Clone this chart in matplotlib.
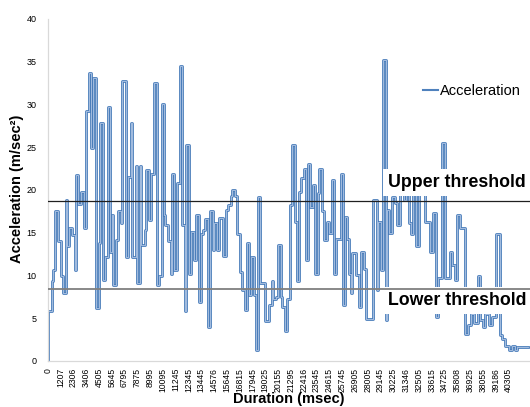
import numpy as np
import matplotlib
matplotlib.use('Agg')
import matplotlib.pyplot as plt
from matplotlib.lines import Line2D

plt.rcParams['font.family'] = ['Liberation Sans', 'DejaVu Sans']

# Duration tick labels (msec), one every 10 samples
duration_labels = ['0', '1207', '2306', '3406', '4505', '5645', '6795', '7875',
                   '8995', '10095', '11245', '12345', '13445', '14576', '15645',
                   '16815', '17945', '19025', '20155', '21295', '22416', '23545',
                   '24615', '25745', '26905', '28005', '29145', '30225', '31346',
                   '32505', '33615', '34725', '35808', '36925', '38055', '39186',
                   '40305']

# Sample index where each new reading starts
step_start = [0, 3, 4, 6, 8, 10, 12, 14, 15, 17, 19, 21, 22, 24, 26, 28, 30, 32,
              34, 35, 38, 40, 41, 43, 45, 47, 49, 50, 51, 53, 55, 57, 58, 61, 63,
              65, 66, 69, 70, 72, 73, 76, 77, 79, 81, 83, 85, 87, 89, 91, 92, 94,
              96, 97, 99, 101, 103, 105, 107, 108, 110, 112, 114, 116, 118, 120,
              121, 123, 125, 127, 129, 130, 132, 134, 137, 139, 141, 143, 144,
              146, 148, 150, 152, 154, 156, 157, 159, 161, 163, 164, 166, 170,
              173, 175, 176, 178, 180, 182, 183, 185, 187, 189, 191, 193, 195,
              196, 198, 200, 202, 203, 205, 207, 209, 211, 212, 214, 216, 218,
              220, 222, 224, 225, 229, 231, 232, 234, 235, 237, 238, 241, 243,
              245, 247, 249, 254, 257, 258, 260, 262, 264, 265, 267, 269, 271,
              273, 275, 278, 280, 282, 284, 285, 288, 290, 295, 299, 301, 303,
              305, 308, 310, 314, 316, 318, 320, 322, 326, 328, 331, 333, 336,
              338, 340, 342, 345, 347, 350, 353, 355, 357, 360, 363, 365, 367]
# Acceleration reading (m/sec^2) held from each start
accel = [5.9, 9.3, 10.6, 17.5, 14.0, 9.9, 7.9, 18.8, 13.4, 15.5, 14.7, 10.6,
         21.7, 18.4, 19.8, 15.5, 29.2, 33.7, 24.9, 33.1, 6.2, 13.8, 27.8, 9.5,
         12.2, 29.7, 12.8, 17.1, 8.9, 14.1, 17.5, 16.1, 32.7, 12.2, 21.5, 27.8,
         12.2, 22.8, 9.1, 22.8, 13.6, 15.3, 22.3, 16.5, 21.9, 32.5, 8.9, 9.9,
         30.1, 17.1, 15.9, 14.0, 10.2, 21.9, 10.6, 20.8, 34.5, 15.9, 5.8, 25.3,
         10.2, 15.1, 11.8, 17.1, 6.9, 14.9, 15.3, 16.6, 4.0, 17.5, 13.0, 16.1,
         13.0, 16.7, 12.3, 17.7, 18.2, 19.3, 20.0, 19.3, 14.9, 10.4, 8.3, 6.0,
         13.8, 7.7, 12.2, 7.7, 1.3, 19.2, 9.1, 4.7, 6.5, 9.3, 7.2, 7.5, 13.6,
         7.5, 6.3, 3.5, 7.2, 18.2, 25.3, 16.2, 9.4, 19.8, 21.4, 22.5, 11.8,
         23.0, 18.0, 20.6, 10.2, 19.6, 22.4, 17.6, 14.1, 16.2, 15.0, 21.2, 10.2,
         14.3, 21.9, 6.5, 16.9, 14.3, 10.2, 7.9, 12.6, 10.1, 6.3, 12.8, 10.8,
         4.9, 18.8, 8.3, 16.3, 10.6, 35.2, 4.8, 17.7, 15.0, 19.2, 18.5, 15.9,
         19.8, 18.8, 20.5, 16.1, 14.9, 20.5, 13.4, 20.5, 16.3, 12.8, 17.3, 5.2,
         9.7, 25.5, 9.7, 12.8, 11.2, 9.5, 17.1, 15.5, 3.2, 4.2, 5.5, 4.5, 10.0,
         4.8, 4.0, 5.5, 4.2, 5.2, 14.9, 3.0, 2.6, 1.7, 1.3, 1.7, 1.3, 1.6]
last_sample = 375

upper_threshold = 18.75
lower_threshold = 8.4

blue = '#4F81BD'


def main():
    fig = plt.figure(figsize=(5.3, 4.07), dpi=100)
    ax = fig.add_axes([47.7 / 530, 1 - 361 / 407, 482.3 / 530, 342 / 407])

    xs = [0] + step_start + [last_sample]
    ys = [0] + accel + [accel[-1]]
    # outlined line, like the excel rendering
    ax.step(xs, ys, where='post', color='#4A7DBA', linewidth=2.0, zorder=2)
    ax.step(xs, ys, where='post', color='#B3C8E6', linewidth=0.6, zorder=2.1)

    ax.axhline(upper_threshold, color='#202020', linewidth=0.9, zorder=5)
    ax.axhline(lower_threshold, color='#7F7F7F', linewidth=1.3, zorder=5)

    ax.text(0.7056, 0.509, 'Upper threshold', transform=ax.transAxes,
            fontsize=12.8, fontweight='bold', va='baseline', ha='left', zorder=4,
            bbox=dict(facecolor='white', edgecolor='none', pad=3.5))
    ax.text(0.7056, 0.164, 'Lower threshold', transform=ax.transAxes,
            fontsize=12.8, fontweight='bold', va='baseline', ha='left', zorder=4,
            bbox=dict(facecolor='white', edgecolor='none', pad=3.5))

    ax.set_xlim(0, 482.3 / 1.28)
    ax.set_ylim(0, 40)
    ax.set_yticks(np.arange(0, 41, 5))
    ax.set_xticks(np.arange(len(duration_labels)) * 10)
    ax.set_xticklabels(duration_labels, rotation=90)
    ax.tick_params(axis='y', length=0, pad=8, labelsize=6.5)
    ax.tick_params(axis='x', length=0, pad=5, labelsize=6.2)

    for side in ['top', 'right']:
        ax.spines[side].set_visible(False)
    for side in ['left', 'bottom']:
        ax.spines[side].set_color('#D9D9D9')
        ax.spines[side].set_linewidth(0.9)

    # axis titles
    fig.text(17 / 530, 1 - 189 / 407, 'Acceleration (m/sec²)', fontsize=10.5,
             fontweight='bold', rotation=90, ha='center', va='center')
    fig.text(0.545, 0.003, 'Duration (msec)', fontsize=10.5, fontweight='bold',
             ha='center', va='bottom')

    handle = Line2D([], [], color=blue, linewidth=1.5)
    ax.legend([handle], ['Acceleration'], loc='center left',
              bbox_to_anchor=(0.778, 0.79), frameon=False, fontsize=10.5,
              handlelength=1.05, handletextpad=0.15, borderpad=0,
              borderaxespad=0)

    fig.savefig('out.png', dpi=100)


if __name__ == "__main__":
    main()
